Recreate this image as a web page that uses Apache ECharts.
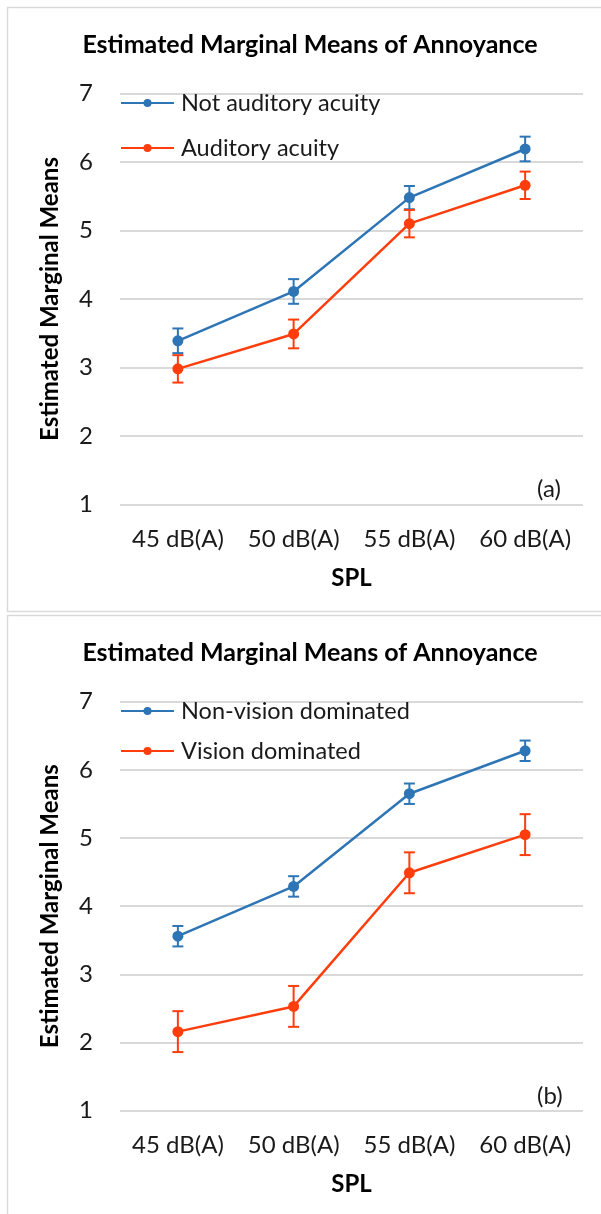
<!DOCTYPE html>
<html>
<head>
<meta charset="utf-8">
<script src="https://cdn.jsdelivr.net/npm/echarts@6/dist/echarts.min.js"></script>
<style>
  html, body { margin: 0; padding: 0; background: #fff; }
  #chart { width: 601px; height: 1214px; }
</style>
</head>
<body>
<div id="chart"></div>
<script>
// Sound pressure levels on the x axis
const categories = ['45 dB(A)', '50 dB(A)', '55 dB(A)', '60 dB(A)'];
const yTicks = [1, 2, 3, 4, 5, 6, 7];

// Panel (a): auditory acuity groups
const namesA = ['Not auditory acuity', 'Auditory acuity'];
const meansA_not = [3.39, 4.11, 5.48, 6.19];
const errA_not   = [0.18, 0.18, 0.17, 0.18];
const meansA_acu = [2.98, 3.49, 5.10, 5.66];
const errA_acu   = [0.20, 0.21, 0.20, 0.20];

// Panel (b): vision dominance groups
const namesB = ['Non-vision dominated', 'Vision dominated'];
const meansB_non = [3.56, 4.29, 5.65, 6.28];
const errB_non   = [0.15, 0.15, 0.15, 0.15];
const meansB_vis = [2.16, 2.53, 4.49, 5.05];
const errB_vis   = [0.30, 0.30, 0.30, 0.30];

const BLUE = '#2E75B6';
const RED = '#FF3D0D';
const FONT = 'Lato';
const TXT = '#1a1a1a';

function errorSeries(means, errs, color, axisIdx) {
  return {
    type: 'custom',
    xAxisIndex: axisIdx,
    yAxisIndex: axisIdx,
    silent: true,
    z: 1,
    data: means.map((m, i) => [i, m - errs[i], m + errs[i]]),
    renderItem: function (params, api) {
      const lo = api.coord([api.value(0), api.value(1)]);
      const hi = api.coord([api.value(0), api.value(2)]);
      const w = 5.5;
      const st = { stroke: color, lineWidth: 2 };
      return {
        type: 'group',
        children: [
          { type: 'line', shape: { x1: lo[0], y1: lo[1], x2: hi[0], y2: hi[1] }, style: st },
          { type: 'line', shape: { x1: lo[0] - w, y1: lo[1], x2: lo[0] + w, y2: lo[1] }, style: st },
          { type: 'line', shape: { x1: hi[0] - w, y1: hi[1], x2: hi[0] + w, y2: hi[1] }, style: st }
        ]
      };
    }
  };
}

function lineSeries(name, means, color, axisIdx) {
  return {
    name: name,
    type: 'line',
    xAxisIndex: axisIdx,
    yAxisIndex: axisIdx,
    data: means,
    symbol: 'circle',
    symbolSize: 11,
    z: 3,
    lineStyle: { color: color, width: 2.5 },
    itemStyle: { color: color },
    emphasis: { disabled: true }
  };
}

function xAxisCfg(idx) {
  return {
    type: 'category',
    gridIndex: idx,
    data: categories,
    boundaryGap: true,
    axisLine: { show: false },
    axisTick: { show: false },
    axisLabel: { interval: 0, hideOverlap: false, fontFamily: FONT, fontSize: 24, color: TXT, margin: 23 },
    name: 'SPL',
    nameLocation: 'middle',
    nameGap: 62,
    nameTextStyle: { fontFamily: FONT, fontSize: 24, fontWeight: 'bold', color: '#000' }
  };
}

function yAxisCfg(idx) {
  return {
    type: 'value',
    gridIndex: idx,
    min: yTicks[0],
    max: yTicks[yTicks.length - 1],
    interval: 1,
    axisLine: { show: false },
    axisTick: { show: false },
    splitLine: { lineStyle: { color: '#d9d9d9', width: 2 } },
    axisLabel: { fontFamily: FONT, fontSize: 24, color: TXT, margin: 27 },
    name: 'Estimated Marginal Means',
    nameLocation: 'middle',
    nameRotate: 90,
    nameGap: 58,
    nameTextStyle: { fontFamily: FONT, fontSize: 24, fontWeight: 'bold', color: '#000' }
  };
}

function legendCfg(names, top, gap) {
  return {
    data: names,
    orient: 'vertical',
    left: 120,
    top: top,
    padding: 0,
    itemWidth: 53,
    itemHeight: 10,
    itemGap: gap,
    selectedMode: false,
    textStyle: { fontFamily: FONT, fontSize: 23.5, color: TXT, padding: [0, 0, 0, 2] }
  };
}

const chart = echarts.init(document.getElementById('chart'), null, { renderer: 'canvas' });

chart.setOption({
  animation: false,
  backgroundColor: '#fff',
  title: [
    { text: 'Estimated Marginal Means of Annoyance', left: 310, top: 32, textAlign: 'center', padding: 0,
      textStyle: { fontFamily: FONT, fontSize: 25, fontWeight: 'bold', color: '#000' } },
    { text: 'Estimated Marginal Means of Annoyance', left: 310, top: 640, textAlign: 'center', padding: 0,
      textStyle: { fontFamily: FONT, fontSize: 25, fontWeight: 'bold', color: '#000' } }
  ],
  legend: [legendCfg(namesA, 91, 21), legendCfg(namesB, 699, 16)],
  grid: [
    { left: 120, right: 18, top: 93.5, height: 411 },
    { left: 120, right: 18, top: 701.7, height: 409 }
  ],
  xAxis: [xAxisCfg(0), xAxisCfg(1)],
  yAxis: [yAxisCfg(0), yAxisCfg(1)],
  graphic: [
    { type: 'rect', shape: { x: 7.5, y: 7.5, width: 620, height: 604 }, style: { fill: 'none', stroke: '#d9d9d9', lineWidth: 1.5 }, z: -1 },
    { type: 'rect', shape: { x: 7.5, y: 615.5, width: 620, height: 620 }, style: { fill: 'none', stroke: '#d9d9d9', lineWidth: 1.5 }, z: -1 },
    { type: 'text', left: 537, top: 477, style: { text: '(a)', font: '24px ' + FONT, fill: TXT } },
    { type: 'text', left: 537, top: 1084, style: { text: '(b)', font: '24px ' + FONT, fill: TXT } }
  ],
  series: [
    errorSeries(meansA_not, errA_not, BLUE, 0),
    errorSeries(meansA_acu, errA_acu, RED, 0),
    lineSeries(namesA[0], meansA_not, BLUE, 0),
    lineSeries(namesA[1], meansA_acu, RED, 0),
    errorSeries(meansB_non, errB_non, BLUE, 1),
    errorSeries(meansB_vis, errB_vis, RED, 1),
    lineSeries(namesB[0], meansB_non, BLUE, 1),
    lineSeries(namesB[1], meansB_vis, RED, 1)
  ]
});
</script>
</body>
</html>
